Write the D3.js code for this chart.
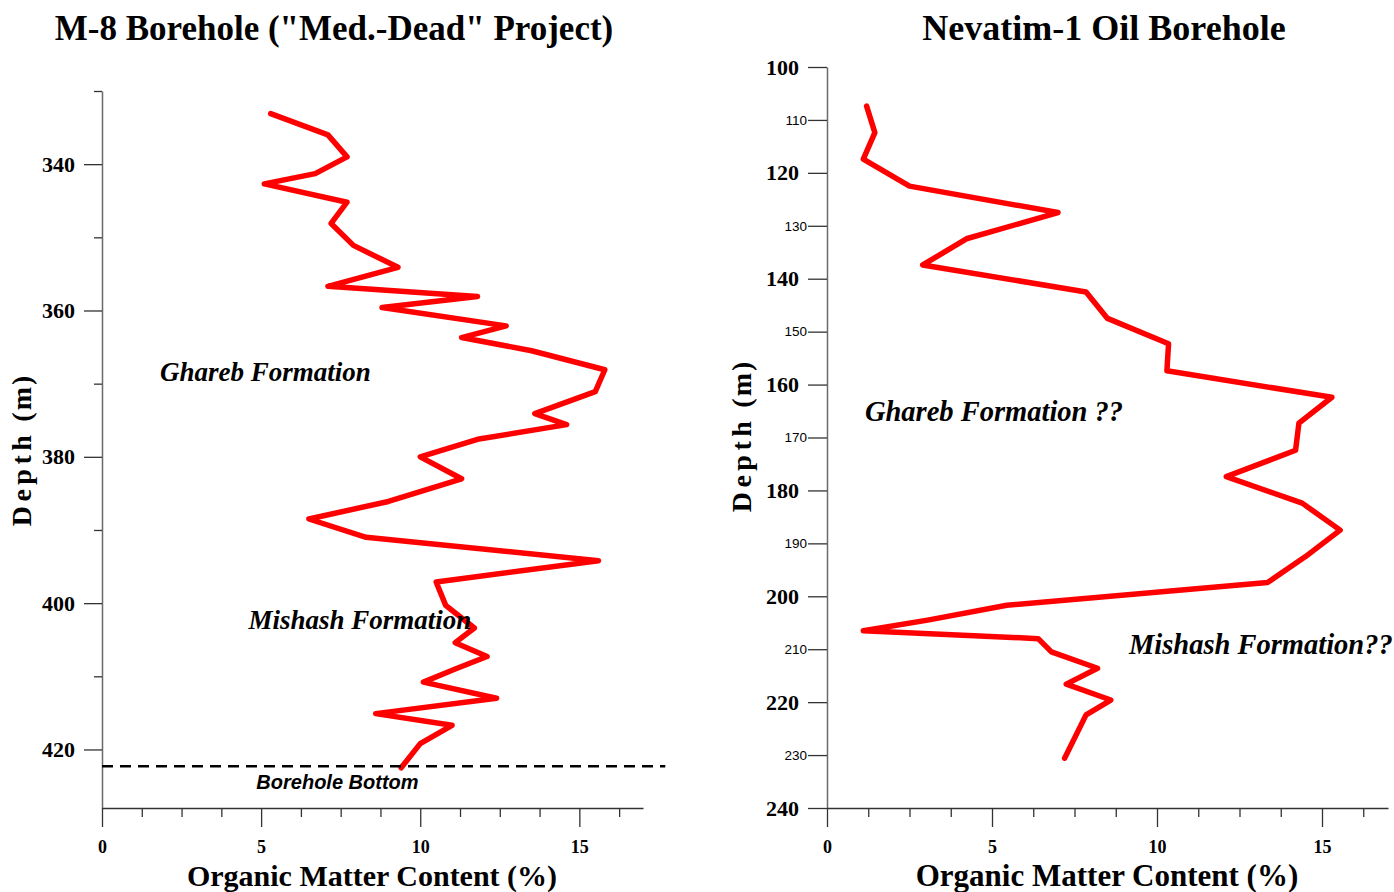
<!DOCTYPE html>
<html>
<head>
<meta charset="utf-8">
<script src="https://cdn.jsdelivr.net/npm/d3@7"></script>
<style>
  html, body { margin: 0; padding: 0; background: #fff; }
  svg { display: block; }
  .serif { font-family: "Liberation Serif", "Times New Roman", serif; font-weight: bold; }
  .sans { font-family: "Liberation Sans", Arial, sans-serif; }
</style>
</head>
<body>
<svg id="chart" width="1394" height="892"></svg>
<script>
// M-8 borehole ("Med.-Dead" project): depth (m) and organic matter (%)
const m8Depth = [333.1, 336.0, 339.0, 341.3, 342.7, 345.2, 348.1, 351.1, 354.1, 356.7,
  358.1, 359.6, 362.1, 363.7, 365.5, 368.1, 371.1, 374.1, 375.6, 377.6,
  380.0, 383.0, 386.1, 388.5, 391.0, 394.2, 397.1, 400.3, 403.4, 405.4,
  407.3, 409.0, 410.8, 413.0, 415.1, 416.7, 419.2, 422.5];
const m8Organic = [5.3, 7.1, 7.7, 6.7, 5.1, 7.7, 7.2, 7.9, 9.3, 7.1,
  11.8, 8.8, 12.7, 11.3, 13.5, 15.8, 15.5, 13.6, 14.6, 11.8,
  10.0, 11.3, 9.0, 6.5, 8.3, 15.6, 10.5, 10.8, 11.7, 11.1,
  12.1, 11.1, 10.1, 12.4, 8.6, 11.0, 10.0, 9.4];
const m8BottomDepth = 422.3;

// Nevatim-1 oil borehole
const nevDepth = [107.4, 112.4, 117.4, 122.5, 127.5, 132.4, 137.4, 142.5, 147.5, 152.3,
  157.4, 162.4, 167.3, 172.4, 177.4, 182.4, 187.5, 192.5, 197.4, 201.7,
  204.5, 206.5, 208.0, 210.5, 213.6, 216.6, 219.6, 222.4, 230.6];
const nevOrganic = [1.2, 1.45, 1.1, 2.5, 7.0, 4.25, 2.9, 7.85, 8.5, 10.35,
  10.3, 15.3, 14.3, 14.2, 12.1, 14.4, 15.55, 14.5, 13.35, 5.45,
  3.05, 1.1, 6.4, 6.8, 8.2, 7.25, 8.6, 7.85, 7.2];

const organicTicks = d3.range(0, 17, 1.25);
const m8DepthTicks = d3.range(330, 421, 10);
const nevDepthTicks = d3.range(100, 241, 10);

const svg = d3.select("#chart");

function drawPanel(cfg) {
  const x = d3.scaleLinear().domain([0, 17]).range(cfg.xRange);
  const y = d3.scaleLinear().domain(cfg.yDomain).range(cfg.yRange);
  const g = svg.append("g");

  // depth axis
  const yAxis = g.append("g")
    .attr("transform", `translate(${cfg.xRange[0]},0)`)
    .call(d3.axisLeft(y).tickValues(cfg.yTicks).tickSizeOuter(0).tickFormat(d3.format("d")));
  yAxis.select(".domain").attr("stroke", "#6a6a6a").attr("stroke-width", 1.5);
  yAxis.selectAll(".tick line").attr("stroke", "#333").attr("stroke-width", 1.3)
    .attr("x2", d => cfg.yTickLen(d));
  yAxis.selectAll(".tick text").each(function (d) {
    const t = d3.select(this);
    const s = cfg.yLabelStyle(d);
    if (!s) { t.remove(); return; }
    t.attr("class", s.cls).attr("font-size", s.size).attr("fill", "#000")
      .attr("x", -s.gap);
  });

  // organic matter axis
  const xAxis = g.append("g")
    .attr("transform", `translate(0,${cfg.yRange[1]})`)
    .call(d3.axisBottom(x).tickValues(organicTicks).tickSizeOuter(0).tickFormat(d3.format("d")));
  xAxis.select(".domain").attr("stroke", "#333").attr("stroke-width", 1.5);
  xAxis.selectAll(".tick line").attr("stroke", "#333").attr("stroke-width", 1.3)
    .attr("y2", d => d % 5 === 0 ? 19 : 9);
  xAxis.selectAll(".tick text").each(function (d) {
    const t = d3.select(this);
    if (d % 5 !== 0) { t.remove(); return; }
    t.attr("class", "serif").attr("font-size", 18).attr("fill", "#000").attr("y", 32);
  });

  // profile line
  const pts = cfg.depth.map((d, i) => [cfg.organic[i], d]);
  g.append("path")
    .datum(pts)
    .attr("fill", "none")
    .attr("stroke", "#ff0000")
    .attr("stroke-width", 5.5)
    .attr("stroke-linejoin", "round")
    .attr("stroke-linecap", "round")
    .attr("d", d3.line().x(p => x(p[0])).y(p => y(p[1])));

  // titles
  g.append("text").attr("class", "serif").attr("font-size", cfg.titleSize)
    .attr("text-anchor", "middle").attr("x", cfg.titleX).attr("y", 40)
    .text(cfg.title);
  g.append("text").attr("class", "serif").attr("font-size", cfg.xTitleSize)
    .attr("text-anchor", "middle").attr("x", cfg.xTitleX)
    .attr("y", 886).text("Organic Matter Content (%)");
  const yt = g.append("text").attr("class", "serif").attr("font-size", 28)
    .attr("text-anchor", "middle")
    .attr("transform", `translate(${cfg.yTitleX},${cfg.yTitleY}) rotate(-90)`);
  yt.append("tspan").attr("letter-spacing", 4.5).text("Depth");
  yt.append("tspan").attr("letter-spacing", 2).text(" (m)");

  // formation labels
  cfg.notes.forEach(n => {
    g.append("text").attr("class", "serif").attr("font-style", "italic")
      .attr("font-size", cfg.noteSize).attr("x", x(n.at[0])).attr("y", y(n.at[1])).text(n.text);
  });
  return { g, x, y };
}

const left = drawPanel({
  xRange: [102, 643], yDomain: [330, 428], yRange: [91, 808],
  yTicks: m8DepthTicks,
  yTickLen: d => d % 20 === 0 ? -18 : -8,
  yLabelStyle: d => d % 20 === 0 ? { cls: "serif", size: 22, gap: 27 } : null,
  depth: m8Depth, organic: m8Organic,
  title: "M-8 Borehole (\"Med.-Dead\" Project)", titleX: 334, titleSize: 35,
  xTitleSize: 30, xTitleX: 372, yTitleX: 31, yTitleY: 450,
  noteSize: 27,
  notes: [
    { text: "Ghareb Formation", at: [1.82, 369.6] },
    { text: "Mishash Formation", at: [4.6, 403.6] }
  ]
});

// borehole bottom marker
left.g.append("line")
  .attr("x1", left.x(0)).attr("x2", left.x(17.7))
  .attr("y1", left.y(m8BottomDepth)).attr("y2", left.y(m8BottomDepth))
  .attr("stroke", "#000").attr("stroke-width", 2.5).attr("stroke-dasharray", "11,7");
left.g.append("text").attr("class", "sans").attr("font-weight", "bold").attr("font-style", "italic")
  .attr("font-size", 20).attr("x", left.x(4.85)).attr("y", left.y(m8BottomDepth) + 23)
  .text("Borehole Bottom");

drawPanel({
  xRange: [827, 1388], yDomain: [100, 240], yRange: [67, 808],
  yTicks: nevDepthTicks,
  yTickLen: () => -19,
  yLabelStyle: d => d % 20 === 0 ? { cls: "serif", size: 22, gap: 28 } : { cls: "sans", size: 13.5, gap: 20 },
  depth: nevDepth, organic: nevOrganic,
  title: "Nevatim-1 Oil Borehole", titleX: 1104, titleSize: 36,
  xTitleSize: 31, xTitleX: 1107, yTitleX: 751, yTitleY: 436,
  noteSize: 28.5,
  notes: [
    { text: "Ghareb Formation ??", at: [1.15, 166.9] },
    { text: "Mishash Formation??", at: [9.15, 210.9] }
  ]
});
</script>
</body>
</html>
